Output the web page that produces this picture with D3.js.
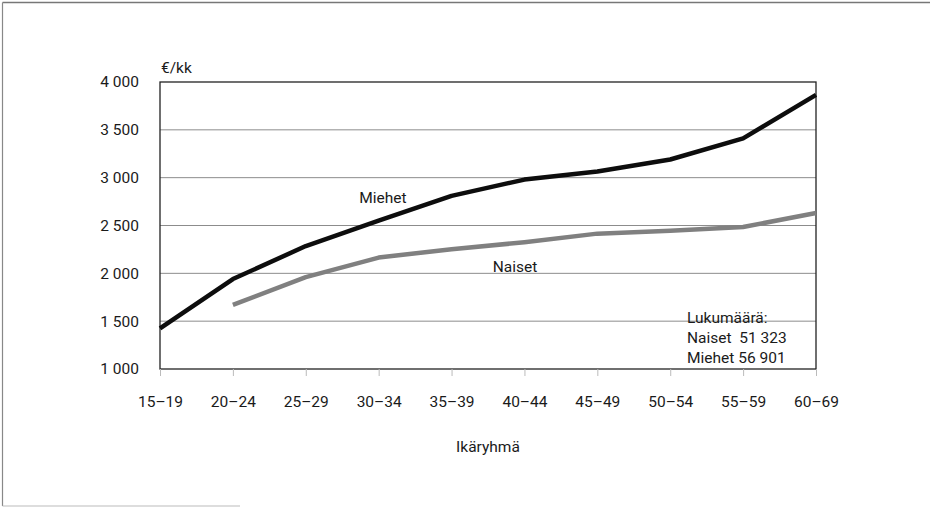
<!DOCTYPE html>
<html><head><meta charset="utf-8">
<script src="https://cdn.jsdelivr.net/npm/d3@7"></script>
<style>
html,body{margin:0;padding:0;background:#fff;}
text{font-family:Roboto,sans-serif;fill:#1a1a1a;}
</style></head>
<body><svg id="c" width="932" height="509"></svg>
<script>
const categories = ["15–19","20–24","25–29","30–34","35–39","40–44","45–49","50–54","55–59","60–69"];
const miehet = [1425, 1940, 2285, 2550, 2810, 2980, 3065, 3190, 3410, 3865];
const naiset = [null, 1670, 1960, 2165, 2252, 2325, 2415, 2445, 2485, 2630];
const yTicks = [1000, 1500, 2000, 2500, 3000, 3500, 4000];
const legendLines = ["Lukumäärä:", "Naiset  51 323", "Miehet 56 901"];

const FS = 15.5;
const svg = d3.select("#c");
const L = 160, R = 816, T = 82, B = 369;
const x = d3.scalePoint().domain(categories).range([L, R]).padding(0);
const y = d3.scaleLinear().domain([1000, 4000]).range([B, T]);

// outer frame
svg.append("line").attr("x1",2.5).attr("x2",930).attr("y1",2.5).attr("y2",2.5).attr("stroke","#777").attr("stroke-width",1.5);
svg.append("line").attr("x1",2.5).attr("x2",2.5).attr("y1",2.5).attr("y2",506).attr("stroke","#888").attr("stroke-width",1.2);
svg.append("line").attr("x1",2.5).attr("x2",240).attr("y1",506).attr("y2",506).attr("stroke","#bbb").attr("stroke-width",1);

// gridlines
svg.append("g").selectAll("line").data(yTicks.slice(1,-1)).join("line")
  .attr("x1",L).attr("x2",R).attr("y1",d=>y(d)).attr("y2",d=>y(d))
  .attr("stroke","#8c8c8c").attr("stroke-width",1);

// plot frame
svg.append("rect").attr("x",L).attr("y",T).attr("width",R-L).attr("height",B-T)
  .attr("fill","none").attr("stroke","#222").attr("stroke-width",1.3);

// y axis
const ya = d3.axisLeft(y).tickValues(yTicks).tickSize(0).tickPadding(21)
  .tickFormat(d => d3.format(",")(d).replace(/,/g, " "));
const gy = svg.append("g").attr("transform",`translate(${L},0)`).call(ya);
gy.select(".domain").remove();
gy.selectAll("text").attr("font-size",FS).attr("font-family","Roboto,sans-serif").attr("fill","#1a1a1a");

// x axis
const xa = d3.axisBottom(x).tickSize(7).tickPadding(20);
const gx = svg.append("g").attr("transform",`translate(0,${B})`).call(xa);
gx.select(".domain").remove();
gx.selectAll("line").attr("stroke","#bbb");
gx.selectAll("text").attr("font-size",FS).attr("font-family","Roboto,sans-serif").attr("fill","#1a1a1a");

// unit label
svg.append("text").attr("x",L+1).attr("y",73).attr("font-size",FS).text("€/kk");
// axis title
svg.append("text").attr("x",(L+R)/2).attr("y",452).attr("text-anchor","middle").attr("font-size",FS).text("Ikäryhmä");

// lines
const line = d3.line().defined(d=>d.v!=null).x(d=>x(d.c)).y(d=>y(d.v));
const toPts = arr => categories.map((c,i)=>({c, v: arr[i]}));
svg.append("path").datum(toPts(naiset)).attr("d",line).attr("fill","none")
  .attr("stroke","#808080").attr("stroke-width",4.5).attr("stroke-linejoin","round");
svg.append("path").datum(toPts(miehet)).attr("d",line).attr("fill","none")
  .attr("stroke","#0d0d0d").attr("stroke-width",4.5).attr("stroke-linejoin","round");

// series labels
svg.append("text").attr("x",383).attr("y",203).attr("text-anchor","middle").attr("font-size",FS).text("Miehet");
svg.append("text").attr("x",515).attr("y",272).attr("text-anchor","middle").attr("font-size",FS).text("Naiset");

// legend note
svg.append("g").selectAll("text").data(legendLines).join("text")
  .attr("x",687).attr("y",(d,i)=>323+i*20).attr("font-size",FS)
  .attr("xml:space","preserve").style("white-space","pre").text(d=>d);
</script></body></html>
